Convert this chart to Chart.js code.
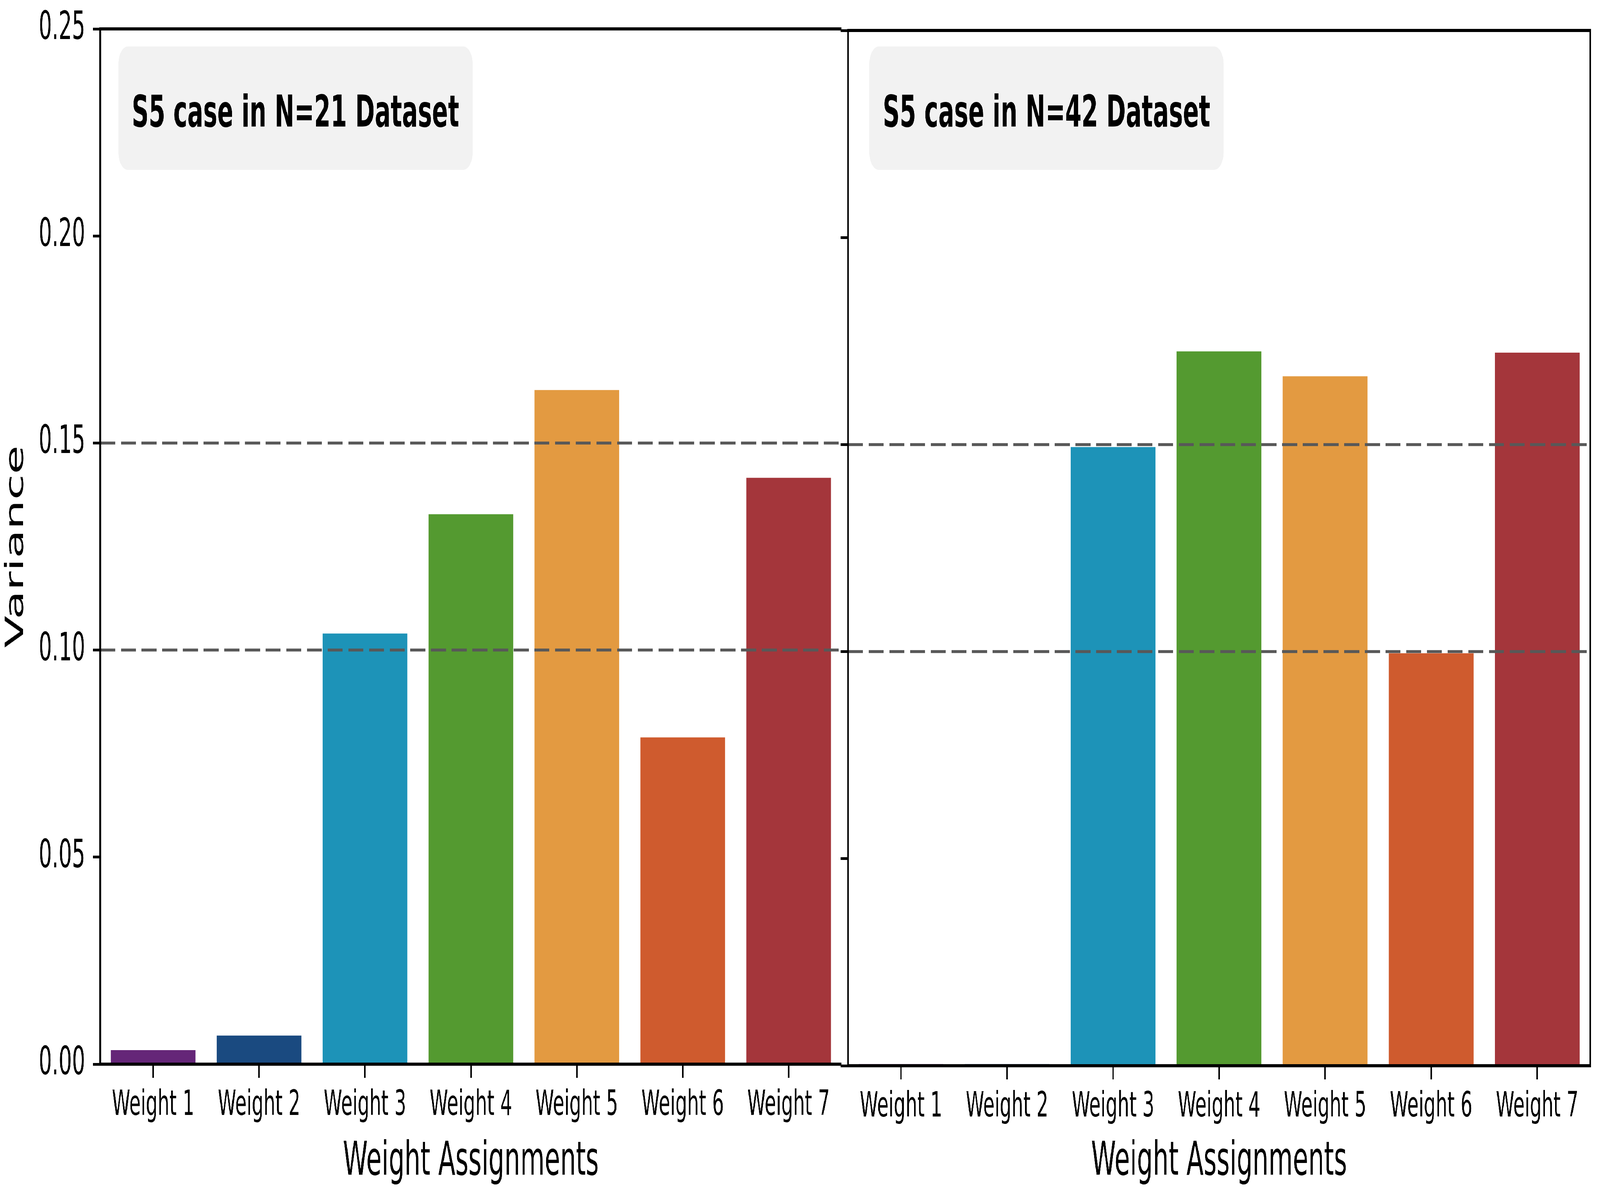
<!DOCTYPE html>
<html>
<head>
<meta charset="utf-8">
<script src="https://cdn.jsdelivr.net/npm/chart.js@4.4.1/dist/chart.umd.min.js"></script>
<style>
html, body { margin: 0; padding: 0; background: #ffffff; overflow: hidden; }
#view { position: fixed; left: 0; top: 0; width: 100vw; height: 100vh; overflow: hidden; background: #ffffff; }
#wrap { position: absolute; left: 0; top: 0; width: 7662px; height: 3060px; transform-origin: 0 0; background: #ffffff; }
canvas { position: absolute; top: 0; }
</style>
</head>
<body>
<div id="view">
<div id="wrap">
  <canvas id="c1" width="4030" height="3060" style="left:0px;width:4030px;height:3060px"></canvas>
  <canvas id="c2" width="3672" height="3060" style="left:3990px;width:3672px;height:3060px"></canvas>
</div>
</div>
<script>
// ---- data ----
const categories = ['Weight 1', 'Weight 2', 'Weight 3', 'Weight 4', 'Weight 5', 'Weight 6', 'Weight 7'];
const varianceN21 = [0.0034, 0.0069, 0.1040, 0.1328, 0.1628, 0.0789, 0.1416];
const varianceN42 = [0.0004, 0.0004, 0.1494, 0.1725, 0.1665, 0.0996, 0.1722];
const yTicks = [0.00, 0.05, 0.10, 0.15, 0.20, 0.25];
const referenceLines = [0.10, 0.15];
const panelTitles = ['S5 case in N=21 Dataset', 'S5 case in N=42 Dataset'];
const xAxisTitle = 'Weight Assignments';
const yAxisTitle = 'Variance';
const barColors = ['#652678', '#1a4a80', '#1d93b8', '#549a30', '#e39a41', '#cf5b2e', '#a4363b'];

const FONT = '"DejaVu Sans", "Liberation Sans", sans-serif';
const DESIGN_W = 7662, DESIGN_H = 3060;

// fit the 7662x3060 design into whatever window is actually available
(function fitView() {
  const w = window.innerWidth || DESIGN_W;
  const h = window.innerHeight || DESIGN_H;
  const sx = w / DESIGN_W, sy = h / DESIGN_H;
  if (Math.abs(sx - 1) > 0.001 || Math.abs(sy - 1) > 0.001) {
    document.getElementById('wrap').style.transform = 'scale(' + sx + ',' + sy + ')';
  }
})();

const panelDecor = {
  id: 'panelDecor',
  afterDatasetsDraw(chart, args, opts) {
    const ctx = chart.ctx;
    const a = chart.chartArea;
    const y = chart.scales.y;
    ctx.save();
    // dashed reference lines
    ctx.strokeStyle = '#585858';
    ctx.lineWidth = 7.5;
    ctx.setLineDash([72, 27]);
    referenceLines.forEach(v => {
      const py = y.getPixelForValue(v);
      ctx.beginPath();
      ctx.moveTo(a.left, py);
      ctx.lineTo(a.right, py);
      ctx.stroke();
    });
    ctx.setLineDash([]);
    // spines
    ctx.strokeStyle = '#000000';
    ctx.lineWidth = 8;
    ctx.lineCap = 'square';
    ctx.beginPath();
    if (opts.rightSpine) {
      ctx.rect(a.left, a.top, a.right - a.left, a.bottom - a.top);
    } else {
      ctx.moveTo(a.right, a.top);
      ctx.lineTo(a.left, a.top);
      ctx.lineTo(a.left, a.bottom);
      ctx.lineTo(a.right, a.bottom);
    }
    ctx.stroke();
    // title box
    ctx.font = 'bold 113px ' + FONT;
    const tw = ctx.measureText(opts.title).width;
    const bw = tw + 2 * 64;
    const bh = 316;
    const bx = a.left + opts.boxDx;
    const by = a.top + opts.boxDy;
    ctx.fillStyle = '#f2f2f2';
    ctx.beginPath();
    ctx.roundRect(bx, by, bw, bh, 45);
    ctx.fill();
    ctx.fillStyle = '#000000';
    ctx.textAlign = 'center';
    ctx.textBaseline = 'alphabetic';
    ctx.fillText(opts.title, bx + bw / 2, by + 205);
    ctx.restore();
  }
};

function makeChart(id, values, panel) {
  const tickGrid = {
    drawOnChartArea: false,
    drawTicks: true,
    tickLength: 35,
    lineWidth: 7,
    color: '#000000',
    offset: false
  };
  return new Chart(document.getElementById(id), {
    type: 'bar',
    data: {
      labels: categories,
      datasets: [{
        data: values,
        backgroundColor: barColors,
        borderWidth: 0,
        barPercentage: 0.8,
        categoryPercentage: 1.0
      }]
    },
    options: {
      responsive: false,
      maintainAspectRatio: false,
      animation: false,
      devicePixelRatio: 1,
      layout: { padding: { top: panel.top, right: panel.right, bottom: 0, left: 0 } },
      plugins: {
        legend: { display: false },
        tooltip: { enabled: false },
        panelDecor: { title: panel.title, rightSpine: panel.rightSpine, boxDx: panel.boxDx, boxDy: panel.boxDy }
      },
      scales: {
        x: {
          type: 'category',
          offset: true,
          grid: tickGrid,
          border: { display: false },
          ticks: { font: { family: FONT, size: 89 }, color: '#000000', padding: 18, maxRotation: 0, autoSkip: false },
          title: { display: true, text: xAxisTitle, color: '#000000', font: { family: FONT, size: 120 }, padding: { top: 0, bottom: 11 } },
          afterFit(s) { s.height = panel.xh; s.paddingLeft = 0; s.paddingRight = 0; s.paddingTop = 0; s.paddingBottom = 0; }
        },
        y: {
          min: 0,
          max: 0.25,
          afterBuildTicks(s) { s.ticks = yTicks.map(v => ({ value: v })); },
          grid: tickGrid,
          border: { display: false },
          ticks: { display: panel.labels, callback: v => Number(v).toFixed(2), font: { family: FONT, size: 100 }, color: '#000000', padding: 37 },
          title: { display: panel.labels, text: yAxisTitle, color: '#000000', font: { family: FONT, size: 120 }, padding: { top: 7, bottom: 0 } },
          afterFit(s) { s.width = panel.yw; s.paddingTop = 0; s.paddingBottom = 0; s.paddingLeft = 0; s.paddingRight = 0; }
        }
      }
    },
    plugins: [panelDecor]
  });
}

makeChart('c1', varianceN21, { top: 74, right: 0, xh: 335, yw: 480, labels: true, title: panelTitles[0], rightSpine: false, boxDx: 87, boxDy: 45 });
makeChart('c2', varianceN42, { top: 78, right: 47, xh: 331, yw: 71, labels: false, title: panelTitles[1], rightSpine: true, boxDx: 102, boxDy: 41 });
</script>
</body>
</html>
